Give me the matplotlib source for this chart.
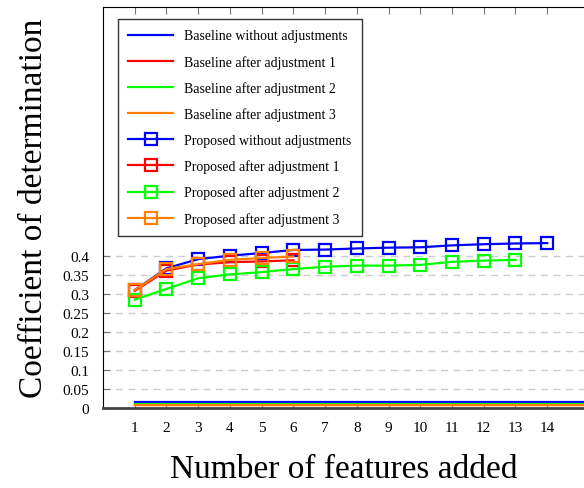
import matplotlib
matplotlib.use('Agg')
import matplotlib.pyplot as plt

plt.rcParams['font.family'] = ['Liberation Serif', 'DejaVu Serif']

features = list(range(1, 15))

# baselines are flat lines across all feature counts
baseline_none = 0.017
baseline_adj1 = 0.010
baseline_adj2 = 0.013
baseline_adj3 = 0.010

proposed_none = [0.310, 0.367, 0.391, 0.400, 0.407, 0.415, 0.416, 0.419, 0.421, 0.422, 0.427, 0.430, 0.432, 0.433]
proposed_adj1 = [0.308, 0.361, 0.377, 0.383, 0.385, 0.388]
proposed_adj2 = [0.285, 0.313, 0.341, 0.351, 0.357, 0.365, 0.371, 0.374, 0.374, 0.376, 0.384, 0.387, 0.389]
proposed_adj3 = [0.310, 0.365, 0.378, 0.389, 0.394, 0.398]

yticks = [0, 0.05, 0.1, 0.15, 0.2, 0.25, 0.3, 0.35, 0.4]
ytick_labels = ['0', '0.05', '0.1', '0.15', '0.2', '0.25', '0.3', '0.35', '0.4']

blue = '#0000ff'
red = '#ff0000'
green = '#00ff00'
orange = '#ff7f00'

fig = plt.figure(figsize=(5.84, 4.89), dpi=100)
ax = fig.add_axes([0.1764, 0.1626, 0.8236, 0.821])

xb = [1, 16]
ax.plot(xb, [baseline_none] * 2, color=blue, lw=1.6, label='Baseline without adjustments')
ax.plot(xb, [baseline_adj1] * 2, color=red, lw=1.6, label='Baseline after adjustment 1')
ax.plot(xb, [baseline_adj2] * 2, color=green, lw=1.6, label='Baseline after adjustment 2')
ax.plot(xb, [baseline_adj3] * 2, color=orange, lw=1.6, label='Baseline after adjustment 3')

mk = dict(marker='s', markersize=8, markerfacecolor='none', markeredgewidth=1.6, lw=1.6)
ax.plot(features[:len(proposed_none)], proposed_none, color=blue, label='Proposed without adjustments', **mk)
ax.plot(features[:len(proposed_adj1)], proposed_adj1, color=red, label='Proposed after adjustment 1', **mk)
ax.plot(features[:len(proposed_adj2)], proposed_adj2, color=green, label='Proposed after adjustment 2', **mk)
ax.plot(features[:len(proposed_adj3)], proposed_adj3, color=orange, label='Proposed after adjustment 3', **mk)

ax.set_xlim(0, 15.16)
ax.set_ylim(0, 1.051)
ax.set_xticks(features)
ax.set_yticks(yticks)
ax.set_yticklabels(ytick_labels)
ax.tick_params(axis='both', direction='in', labelsize=11, color='#777777', length=5)
ax.tick_params(axis='x', top=True, pad=9)
ax.tick_params(axis='y', pad=10)
for y in yticks[1:]:
    ax.axhline(y, color='#cccccc', lw=1, ls=(0, (5, 4)), zorder=0)

ax.spines['right'].set_visible(False)
ax.spines['bottom'].set_color('#444444')
ax.spines['bottom'].set_linewidth(2)

ax.set_xlabel('Number of features added', fontsize=24, labelpad=14)
ax.set_ylabel('Coefficient of determination', fontsize=24)
ax.yaxis.set_label_coords(-0.112, 0.5)

leg = ax.legend(loc='upper left', bbox_to_anchor=(0.031, 0.970), borderaxespad=0, fontsize=10,
                frameon=True, fancybox=False, edgecolor='black', handlelength=3.2,
                labelspacing=0.9, borderpad=0.75, handletextpad=0.8)
leg.get_frame().set_linewidth(1)

fig.savefig('out.png', dpi=100)
